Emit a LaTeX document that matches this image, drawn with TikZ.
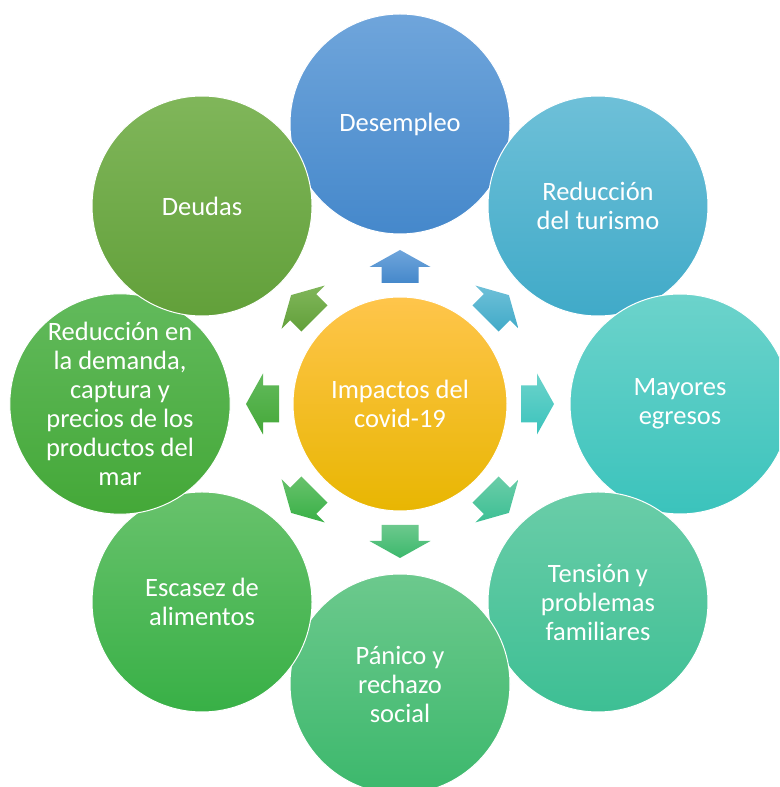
\documentclass[tikz,border=0pt]{standalone}
\usepackage{fontspec}
\setmainfont{Carlito}
\usetikzlibrary{calc}

% gradient pairs, lighter on top
\definecolor{hubA}{HTML}{FFC54B}\definecolor{hubB}{HTML}{E8B602}
\definecolor{c1A}{HTML}{6FA5DB}\definecolor{c1B}{HTML}{4588CB}
\definecolor{c2A}{HTML}{6EC0D8}\definecolor{c2B}{HTML}{40AAC8}
\definecolor{c3A}{HTML}{6CD3CB}\definecolor{c3B}{HTML}{3BC3BC}
\definecolor{c4A}{HTML}{6ACDA8}\definecolor{c4B}{HTML}{3DBF94}
\definecolor{c5A}{HTML}{6CC98D}\definecolor{c5B}{HTML}{3CB86C}
\definecolor{c6A}{HTML}{68C26C}\definecolor{c6B}{HTML}{38B046}
\definecolor{c7A}{HTML}{62BA5C}\definecolor{c7B}{HTML}{44A838}
\definecolor{c8A}{HTML}{80B65A}\definecolor{c8B}{HTML}{62A03A}

\tikzset{
  bubble/.style={circle, minimum size=220pt, inner sep=0pt, draw=white,
    line width=1pt, align=center, text=white,
    font=\fontsize{26.5}{29}\selectfont},
}

\begin{document}
\begin{tikzpicture}[x=1pt,y=1pt]
  \useasboundingbox (0,0) rectangle (779,787);
  \clip (0,0) rectangle (779,787);
  \coordinate (hub) at (400,383);
  % outer ring, clockwise from the top
  \node[bubble, top color=c1A, bottom color=c1B] (desempleo) at ($(hub)+(90:280)$) {Desempleo};
  \node[bubble, top color=c2A, bottom color=c2B] (turismo) at ($(hub)+(45:280)$) {Reducción\\del turismo};
  \node[bubble, top color=c3A, bottom color=c3B] (egresos) at ($(hub)+(0:280)$) {Mayores\\egresos};
  \node[bubble, top color=c4A, bottom color=c4B] (tension) at ($(hub)+(-45:280)$) {Tensión y\\problemas\\familiares};
  \node[bubble, top color=c5A, bottom color=c5B] (panico) at ($(hub)+(-90:280)$) {Pánico y\\rechazo\\social};
  \node[bubble, top color=c6A, bottom color=c6B] (escasez) at ($(hub)+(-135:280)$) {Escasez de\\alimentos};
  \node[bubble, top color=c7A, bottom color=c7B] (demanda) at ($(hub)+(180:280)$) {Reducción en\\la demanda,\\captura y\\precios de los\\productos del\\mar};
  \node[bubble, top color=c8A, bottom color=c8B] (deudas) at ($(hub)+(135:280)$) {Deudas};
  % centre
  \node[bubble, minimum size=214pt, top color=hubA, bottom color=hubB] (impactos) at (hub) {Impactos del\\covid-19};
  % block arrows
  \foreach \a/\i in {90/1,45/2,0/3,-45/4,-90/5,-135/6,180/7,135/8} {%
    \shade[top color=c\i A, bottom color=c\i B]
      ($(impactos.center)+(\a:121)+(\a+90:18.5)$) -- ($(impactos.center)+(\a:137)+(\a+90:18.5)$)
      -- ($(impactos.center)+(\a:137)+(\a+90:30.5)$) -- ($(impactos.center)+(\a:154)$)
      -- ($(impactos.center)+(\a:137)+(\a-90:30.5)$) -- ($(impactos.center)+(\a:137)+(\a-90:18.5)$)
      -- ($(impactos.center)+(\a:121)+(\a-90:18.5)$) -- cycle;
  };
\end{tikzpicture}
\end{document}
